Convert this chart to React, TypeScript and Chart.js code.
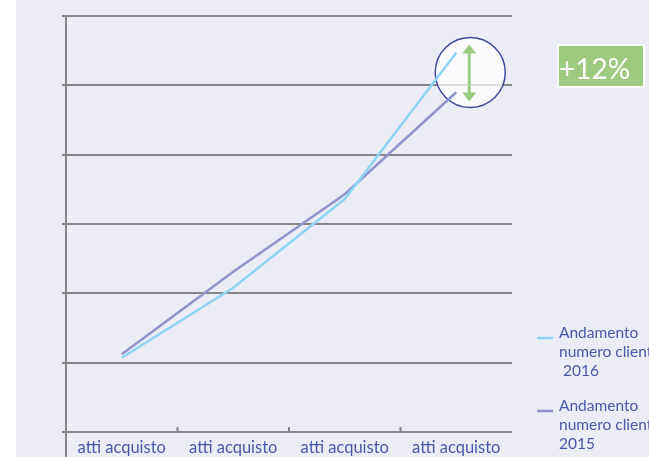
import React, { useEffect, useRef } from "react";
import { Chart, registerables } from "chart.js";

Chart.register(...registerables);

const categories = ["atti acquisto", "atti acquisto", "atti acquisto", "atti acquisto"];
const series2016 = [1.07, 2.08, 3.36, 5.47];
const series2015 = [1.12, 2.31, 3.43, 4.9];
const legend2016 = ["Andamento", "numero clienti", " 2016"];
const legend2015 = ["Andamento", "numero clienti", "2015"];
const badgeText = "+12%";
const yMin = 0;
const yMax = 6;

const TEXT = "#4a57a6";
const GRID = "#858585";
const C2016 = "#8fd4f5";
const C2015 = "#8f94cc";
const GREEN = "#9ccb80";
const FONT = "Lato";

const decor = {
  id: "decor",
  beforeDraw(chart: any) {
    const { ctx, width, height } = chart;
    ctx.save();
    ctx.fillStyle = "#ffffff";
    ctx.fillRect(0, 0, width, height);
    ctx.fillStyle = "#ececf6";
    ctx.fillRect(16, 0, width - 16, height);
    ctx.restore();
  },
  beforeDatasetsDraw(chart: any) {
    const { ctx, chartArea } = chart;
    const x = chart.scales.x;
    const y = chart.scales.y;
    ctx.save();
    ctx.strokeStyle = GRID;
    ctx.lineWidth = 2;
    ctx.beginPath();
    ctx.moveTo(chartArea.left, chartArea.top);
    ctx.lineTo(chartArea.left, chart.height);
    ctx.stroke();
    const n = categories.length;
    for (let i = 1; i < n; i++) {
      const px = (x.getPixelForValue(i - 1) + x.getPixelForValue(i)) / 2;
      ctx.beginPath();
      ctx.moveTo(px, chartArea.bottom);
      ctx.lineTo(px, chartArea.bottom - 5);
      ctx.stroke();
    }
    const last = n - 1;
    const cx = x.getPixelForValue(last) + 14;
    const cy = (y.getPixelForValue(series2016[last]) + y.getPixelForValue(series2015[last])) / 2;
    ctx.beginPath();
    ctx.arc(cx, cy, 35, 0, Math.PI * 2);
    ctx.fillStyle = "rgba(255,255,255,0.72)";
    ctx.fill();
    ctx.strokeStyle = "#3f4c9e";
    ctx.lineWidth = 1.5;
    ctx.stroke();
    ctx.restore();
  },
  afterDatasetsDraw(chart: any) {
    const { ctx } = chart;
    const x = chart.scales.x;
    const y = chart.scales.y;
    const last = categories.length - 1;
    const cx = x.getPixelForValue(last) + 13;
    const cy = (y.getPixelForValue(series2016[last]) + y.getPixelForValue(series2015[last])) / 2;
    const top = cy - 28;
    const bot = cy + 29;
    ctx.save();
    ctx.strokeStyle = GREEN;
    ctx.fillStyle = GREEN;
    ctx.lineWidth = 3;
    ctx.beginPath();
    ctx.moveTo(cx, top + 6);
    ctx.lineTo(cx, bot - 6);
    ctx.stroke();
    ctx.beginPath();
    ctx.moveTo(cx, top);
    ctx.lineTo(cx - 7, top + 9);
    ctx.lineTo(cx + 7, top + 9);
    ctx.closePath();
    ctx.fill();
    ctx.beginPath();
    ctx.moveTo(cx, bot);
    ctx.lineTo(cx - 7, bot - 9);
    ctx.lineTo(cx + 7, bot - 9);
    ctx.closePath();
    ctx.fill();

    ctx.fillStyle = "#ffffff";
    ctx.fillRect(557, 44, 88, 44);
    ctx.fillStyle = GREEN;
    ctx.fillRect(559, 46, 84, 40);
    ctx.fillStyle = "#ffffff";
    ctx.font = `28px ${FONT}`;
    ctx.textBaseline = "alphabetic";
    ctx.textAlign = "left";
    ctx.fillText(badgeText, 559, 79);

    const items = [
      { lines: legend2016, color: chart.data.datasets[0].borderColor, y: 338 },
      { lines: legend2015, color: chart.data.datasets[1].borderColor, y: 411 },
    ];
    ctx.font = `15.5px ${FONT}`;
    items.forEach((it) => {
      ctx.strokeStyle = it.color;
      ctx.lineWidth = 2.5;
      ctx.beginPath();
      ctx.moveTo(537, it.y);
      ctx.lineTo(553, it.y);
      ctx.stroke();
      ctx.fillStyle = TEXT;
      it.lines.forEach((t, i) => {
        ctx.fillText(t, 559, it.y + i * 19);
      });
    });
    ctx.restore();
  },
};

export default function App() {
  const ref = useRef<HTMLCanvasElement>(null);
  useEffect(() => {
    if (!ref.current) return;
    const chart = new Chart(ref.current, {
      type: "line",
      data: {
        labels: categories,
        datasets: [
          {
            label: "Andamento numero clienti 2016",
            data: series2016,
            borderColor: C2016,
            borderWidth: 2.5,
            pointRadius: 0,
            tension: 0,
            fill: false,
          },
          {
            label: "Andamento numero clienti 2015",
            data: series2015,
            borderColor: C2015,
            borderWidth: 2.5,
            pointRadius: 0,
            tension: 0,
            fill: false,
          },
        ],
      },
      options: {
        responsive: false,
        animation: false,
        layout: { padding: { left: 0, right: 137, top: 16, bottom: 0 } },
        plugins: { legend: { display: false }, tooltip: { enabled: false } },
        scales: {
          x: {
            offset: true,
            grid: { display: false, offset: true, drawTicks: false },
            border: { display: false },
            ticks: {
              color: TEXT,
              font: { family: FONT, size: 16.5 },
              padding: 6,
              maxRotation: 0,
            },
            afterFit: (s: any) => {
              s.height = 25;
            },
          },
          y: {
            min: yMin,
            max: yMax,
            ticks: { stepSize: 1, display: false },
            grid: { color: GRID, lineWidth: 2, tickLength: 4, drawTicks: true },
            border: { display: false },
            afterFit: (s: any) => {
              s.width = 66;
            },
          },
        },
      },
      plugins: [decor],
    });
    return () => chart.destroy();
  }, []);
  return (
    <div style={{ position: "fixed", left: 0, top: 0, width: 649, height: 457 }}>
      <canvas ref={ref} width={649} height={457} style={{ display: "block" }} />
    </div>
  );
}
